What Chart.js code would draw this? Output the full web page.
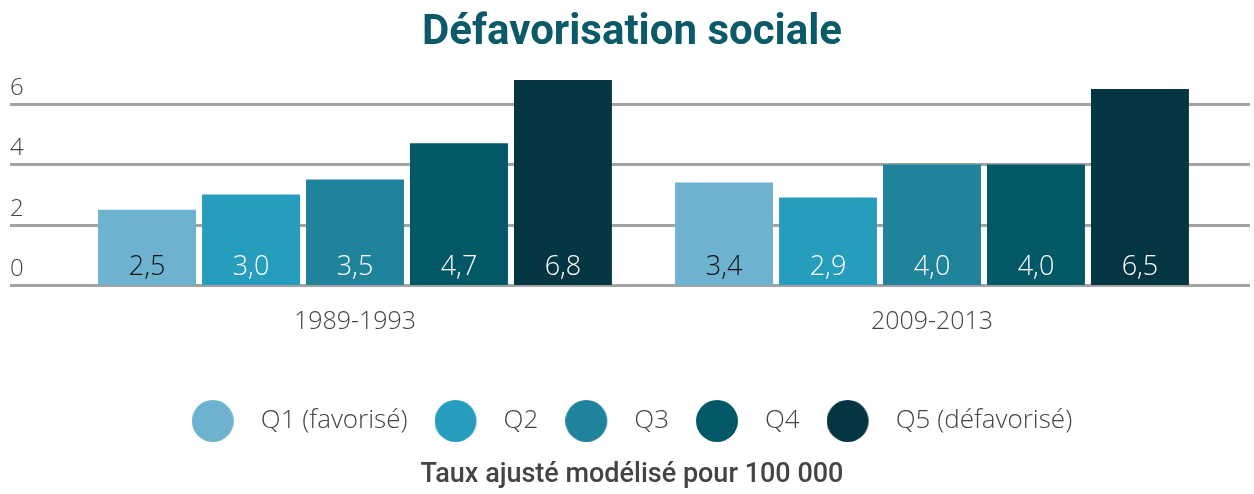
<!DOCTYPE html>
<html><head><meta charset="utf-8">
<script src="https://cdn.jsdelivr.net/npm/chart.js@4"></script>
<style>html,body{margin:0;padding:0;background:#fff;}#wrap{width:1254px;height:494px;}</style>
</head><body><div id="wrap"><canvas id="c" width="1254" height="494"></canvas></div>
<script>
const categories = ['1989-1993', '2009-2013'];
const seriesNames = ['Q1 (favorisé)', 'Q2', 'Q3', 'Q4', 'Q5 (défavorisé)'];
const q1 = [2.5, 3.4];
const q2 = [3.0, 2.9];
const q3 = [3.5, 4.0];
const q4 = [4.7, 4.0];
const q5 = [6.8, 6.5];
const yTicks = [0, 2, 4, 6];
const titleText = 'Défavorisation sociale';
const subtitleText = 'Taux ajusté modélisé pour 100 000';

const colors = ['#6db3cf', '#279dbd', '#1e839b', '#035868', '#033642'];
const valueLabelColors = ['#111111', '#ffffff', '#ffffff', '#ffffff', '#ffffff'];
const seriesValues = [q1, q2, q3, q4, q5];

const LEGEND_FONT = 26;
const CIRCLE = 42;
const BOX_W = CIRCLE + 27 - LEGEND_FONT / 2;

function circleImage(color) {
  const cv = document.createElement('canvas');
  cv.width = BOX_W; cv.height = CIRCLE;
  const g = cv.getContext('2d');
  g.fillStyle = color;
  g.beginPath();
  g.arc(CIRCLE / 2, CIRCLE / 2, CIRCLE / 2, 0, Math.PI * 2);
  g.fill();
  return cv;
}
const legendImages = colors.map(circleImage);

const gridPlugin = {
  id: 'fullGrid',
  beforeDatasetsDraw(chart) {
    const ctx = chart.ctx, y = chart.scales.y;
    ctx.save();
    ctx.strokeStyle = '#a3a3a3';
    ctx.lineWidth = 3;
    yTicks.forEach(v => {
      const py = Math.round(y.getPixelForValue(v)) + 0.5;
      ctx.beginPath();
      ctx.moveTo(10, py);
      ctx.lineTo(1250, py);
      ctx.stroke();
    });
    ctx.restore();
  }
};

const valueLabelPlugin = {
  id: 'valueLabels',
  afterDatasetsDraw(chart) {
    const ctx = chart.ctx;
    ctx.save();
    ctx.font = '300 27px "Open Sans"';
    ctx.textAlign = 'center';
    ctx.textBaseline = 'middle';
    chart.data.datasets.forEach((ds, i) => {
      const meta = chart.getDatasetMeta(i);
      meta.data.forEach((el, j) => {
        ctx.fillStyle = valueLabelColors[i];
        ctx.fillText(ds.data[j].toFixed(1).replace('.', ','), el.x, el.base - 18);
      });
    });
    ctx.restore();
  }
};

new Chart(document.getElementById('c'), {
  type: 'bar',
  data: {
    labels: categories,
    datasets: seriesNames.map((n, i) => ({
      label: n,
      data: seriesValues[i],
      backgroundColor: colors[i],
      borderWidth: 0,
      categoryPercentage: 0.901,
      barPercentage: 0.942
    }))
  },
  options: {
    responsive: false,
    animation: false,
    devicePixelRatio: 1,
    layout: { padding: { left: 10, right: 0, top: 0, bottom: 0 } },
    scales: {
      x: {
        afterFit: s => { s.height = 96; },
        grid: { display: false },
        border: { display: false },
        ticks: { color: '#444', font: { family: 'Open Sans', size: 25, weight: '300' }, padding: 14 }
      },
      y: {
        min: 0, max: 7,
        afterBuildTicks: s => { s.ticks = yTicks.map(v => ({ value: v })); },
        afterFit: s => { s.width = 56.5; },
        grid: { display: false },
        border: { display: false },
        ticks: { color: '#444', font: { family: 'Open Sans', size: 24, weight: '300' }, crossAlign: 'far', labelOffset: -16, padding: 0 }
      },
      y2: {
        position: 'right',
        afterFit: s => { s.width = 33.5; },
        grid: { display: false },
        border: { display: false },
        ticks: { display: false }
      }
    },
    plugins: {
      title: {
        display: true,
        text: titleText,
        color: '#0b5a69',
        font: { family: 'Roboto', size: 42, weight: '700' },
        padding: { top: 8, bottom: 15.6 }
      },
      subtitle: {
        display: true,
        text: subtitleText,
        position: 'bottom',
        color: '#444',
        font: { family: 'Roboto', size: 27, weight: '500' },
        padding: { top: 14.8, bottom: 2.8 }
      },
      legend: {
        position: 'bottom',
        labels: {
          usePointStyle: true,
          pointStyleWidth: BOX_W,
          color: '#444',
          font: { family: 'Open Sans', size: LEGEND_FONT, weight: '300' },
          padding: 27,
          generateLabels(chart) {
            const items = Chart.defaults.plugins.legend.labels.generateLabels(chart);
            items.forEach((it, i) => { it.pointStyle = legendImages[i]; });
            return items;
          }
        }
      },
      tooltip: { enabled: false }
    }
  },
  plugins: [gridPlugin, valueLabelPlugin]
});
</script>
</body></html>
